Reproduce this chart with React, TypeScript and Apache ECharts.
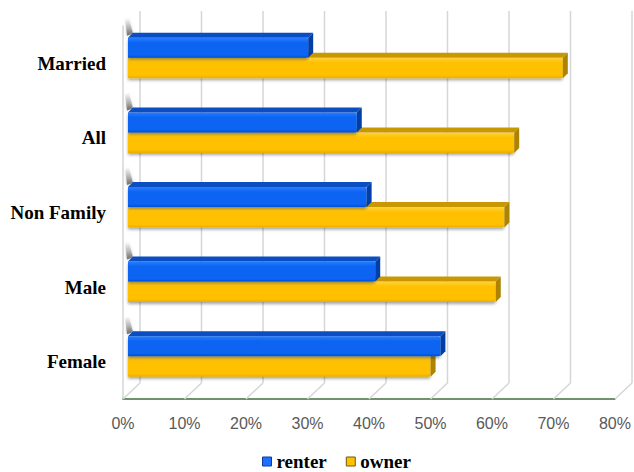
import React, { useEffect, useRef } from "react";
import * as echarts from "echarts";

// Share of households by tenure, per household type
const categories = ["Married", "All", "Non Family", "Male", "Female"];
const renter = [29.3, 37.2, 38.8, 40.2, 50.8];
const owner = [70.7, 62.8, 61.2, 59.8, 49.2];
const percentTicks = [0, 10, 20, 30, 40, 50, 60, 70, 80];

// oblique "3D" offsets: floor depth and bar depth
const WALL_DX = 17;
const WALL_DY = 16;
const BAR_DX = 5;
const BAR_DY = 5;

const palette = {
  renter: {
    front: ["#2a7dff", "#0a64f2", "#0052d8"],
    top: "#0a4ec2",
    side: "#003fa8",
    legendBorder: "#0a3fa0",
  },
  owner: {
    front: ["#ffd23d", "#ffc000", "#e9ad00"],
    top: "#c99700",
    side: "#ad8300",
    legendBorder: "#6b5a12",
  },
};

function makeBarRenderer(kind: "renter" | "owner") {
  const col = palette[kind];
  return (params: any, api: any) => {
    const v = api.value(0);
    const cat = api.value(1);
    const [x1, c] = api.coord([v, cat]);
    const [x0] = api.coord([0, cat]);
    const xL = x0 + 5;
    const xR = x1 + 5;
    const yTop = kind === "renter" ? c - 25.5 : c - 5.5;
    const yBot = kind === "renter" ? c - 5.5 : c + 15;
    const children: any[] = [];
    if (kind === "renter") {
      // soft shadow cast on the side wall above the bar end
      const sy = yTop - BAR_DY;
      children.push({
        type: "polygon",
        shape: {
          points: [
            [xL - 3, sy - 13],
            [xL + 1, sy - 15],
            [xL + 5, sy + 1],
            [xL - 1, sy + 3],
          ],
        },
        style: {
          fill: new echarts.graphic.LinearGradient(0, 0, 0, 1, [
            { offset: 0, color: "rgba(120,120,120,0)" },
            { offset: 0.55, color: "rgba(100,100,100,0.35)" },
            { offset: 1, color: "rgba(60,60,60,0.7)" },
          ]),
          shadowColor: "rgba(90,90,90,0.6)",
          shadowBlur: 3,
        },
        silent: true,
      });
    }
    children.push({
      type: "rect",
      shape: { x: xL, y: yTop, width: xR - xL, height: yBot - yTop, r: [0, 1.5, 2, 0] },
      style: {
        fill: new echarts.graphic.LinearGradient(0, 0, 0, 1, [
          { offset: 0, color: col.front[0] },
          { offset: 0.25, color: col.front[1] },
          { offset: 0.85, color: col.front[1] },
          { offset: 1, color: col.front[2] },
        ]),
        shadowColor: "rgba(0,0,0,0.35)",
        shadowBlur: 3,
        shadowOffsetY: 2,
      },
    });
    children.push({
      type: "polygon",
      shape: {
        points: [
          [xL, yTop],
          [xR, yTop],
          [xR + BAR_DX, yTop - BAR_DY],
          [xL + BAR_DX, yTop - BAR_DY],
        ],
      },
      style: { fill: col.top },
    });
    children.push({
      type: "polygon",
      shape: {
        points: [
          [xR, yTop],
          [xR + BAR_DX, yTop - BAR_DY],
          [xR + BAR_DX, yBot - BAR_DY],
          [xR, yBot],
        ],
      },
      style: { fill: col.side },
    });
    return { type: "group", children };
  };
}

function renderWalls(params: any, api: any) {
  const v = api.value(0);
  const [fx] = api.coord([v, 0]);
  const cs = params.coordSys;
  const top = cs.y;
  const bottom = cs.y + cs.height;
  const stroke = { stroke: "#d6d6d6", lineWidth: 1.5 };
  return {
    type: "group",
    children: [
      {
        type: "line",
        shape: { x1: fx + WALL_DX, y1: top - 15, x2: fx + WALL_DX, y2: bottom - WALL_DY },
        style: stroke,
      },
      {
        type: "line",
        shape: { x1: fx, y1: bottom, x2: fx + WALL_DX, y2: bottom - WALL_DY },
        style: stroke,
      },
    ],
  };
}

export default function App() {
  const ref = useRef<HTMLDivElement>(null);

  useEffect(() => {
    if (!ref.current) return;
    const chart = echarts.init(ref.current, null, { renderer: "svg" });
    chart.setOption({
      animation: false,
      backgroundColor: "#ffffff",
      grid: { left: 123, top: 26, width: 494, height: 373, containLabel: false },
      xAxis: {
        type: "value",
        min: 0,
        max: 80,
        interval: 10,
        axisLine: { show: true, lineStyle: { color: "#3f6e3f", width: 1.5 } },
        axisTick: { show: false },
        splitLine: { show: false },
        axisLabel: {
          formatter: "{value}%",
          color: "#595959",
          fontSize: 16,
          fontFamily: "Liberation Sans",
          margin: 16,
        },
      },
      yAxis: {
        type: "category",
        data: categories,
        inverse: true,
        axisLine: { show: true, lineStyle: { color: "#d6d6d6", width: 1.5 } },
        axisTick: { show: false },
        splitLine: { show: false },
        axisLabel: {
          color: "#000000",
          fontSize: 19,
          fontWeight: "bold",
          fontFamily: "Liberation Serif",
          margin: 17,
        },
      },
      legend: {
        left: 262,
        top: 452,
        padding: 0,
        itemWidth: 9,
        itemHeight: 9,
        itemGap: 19,
        textStyle: {
          color: "#000000",
          fontSize: 19,
          lineHeight: 18,
          fontWeight: "bold",
          fontFamily: "Liberation Serif",
        },
        data: [
          {
            name: "renter",
            icon: "rect",
            itemStyle: { color: "#1f6fff", borderColor: palette.renter.legendBorder, borderWidth: 1 },
          },
          {
            name: "owner",
            icon: "rect",
            itemStyle: { color: "#ffc000", borderColor: palette.owner.legendBorder, borderWidth: 1 },
          },
        ],
      },
      series: [
        {
          type: "custom",
          name: "walls",
          z: 1,
          silent: true,
          renderItem: renderWalls,
          encode: { x: 0, y: 1 },
          data: percentTicks.map((t) => [t, 0]),
        },
        {
          type: "custom",
          name: "owner",
          z: 2,
          itemStyle: { color: "#ffc000" },
          renderItem: makeBarRenderer("owner"),
          encode: { x: 0, y: 1 },
          data: owner.map((v, i) => [v, i]),
        },
        {
          type: "custom",
          name: "renter",
          z: 3,
          itemStyle: { color: "#1f6fff" },
          renderItem: makeBarRenderer("renter"),
          encode: { x: 0, y: 1 },
          data: renter.map((v, i) => [v, i]),
        },
      ],
    });
    return () => chart.dispose();
  }, []);

  return (
    <div
      ref={ref}
      style={{ position: "fixed", left: 0, top: 0, width: 634, height: 472, background: "#fff" }}
    />
  );
}
